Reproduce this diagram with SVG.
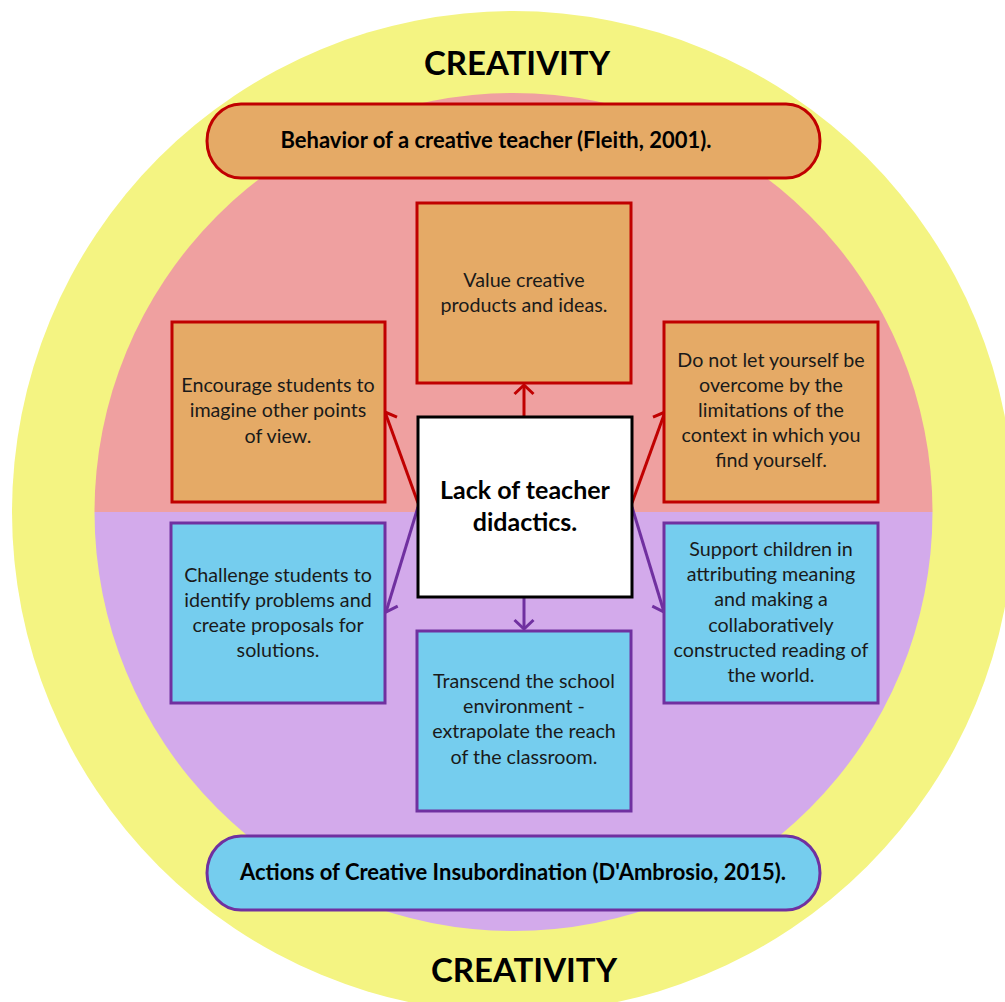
<svg xmlns="http://www.w3.org/2000/svg" width="1005" height="1002" viewBox="0 0 1005 1002">
  <style>
    .title { font-family: Lato, "Open Sans", sans-serif; font-weight: bold; font-size: 33px; fill: #000; text-anchor: middle; }
    .pilltxt { font-family: Lato, "Open Sans", sans-serif; font-weight: bold; font-size: 22px; fill: #000; text-anchor: middle; }
    .body { font-family: Lato, "Open Sans", sans-serif; font-size: 19.7px; fill: #1a1a1a; text-anchor: middle; }
    .core { font-family: Lato, "Open Sans", sans-serif; font-weight: bold; font-size: 25px; fill: #000; text-anchor: middle; }
    .warm { fill: #E5AA66; stroke: #C00000; stroke-width: 3; }
    .cool { fill: #75CDEE; stroke: #7030A0; stroke-width: 3; }
    .red { stroke: #C00000; stroke-width: 3; fill: none; }
    .violet { stroke: #7030A0; stroke-width: 3; fill: none; }
  </style>
  <defs>
    <marker id="headRed" markerUnits="userSpaceOnUse" markerWidth="24" markerHeight="24" viewBox="-12 -12 24 24" refX="0" refY="0" orient="auto">
      <path d="M -9 -9.5 L 0 0 L -9 9.5" fill="none" stroke="#C00000" stroke-width="3"/>
    </marker>
    <marker id="headViolet" markerUnits="userSpaceOnUse" markerWidth="24" markerHeight="24" viewBox="-12 -12 24 24" refX="0" refY="0" orient="auto">
      <path d="M -9 -9.5 L 0 0 L -9 9.5" fill="none" stroke="#7030A0" stroke-width="3"/>
    </marker>
  </defs>

  <rect width="1005" height="1002" fill="#ffffff"/>

  <!-- background rings -->
  <g id="rings">
    <circle cx="513" cy="512" r="501" fill="#F4F482"/>
    <path d="M 94.5 512 A 419 419 0 0 1 932.5 512 Z" fill="#EFA0A0"/>
    <path d="M 94.5 512 A 419 419 0 0 0 932.5 512 Z" fill="#D3AAEB"/>
  </g>

  <g id="title-top">
    <text class="title" x="517" y="75">CREATIVITY</text>
  </g>
  <g id="title-bottom">
    <text class="title" x="524" y="982">CREATIVITY</text>
  </g>

  <g id="pill-top">
    <rect x="207" y="104" width="613" height="74" rx="34" ry="37" class="warm"/>
    <text class="pilltxt" x="496" y="148">Behavior of a creative teacher (Fleith, 2001).</text>
  </g>

  <g id="pill-bottom">
    <rect x="207" y="836" width="613" height="74" rx="34" ry="37" class="cool"/>
    <text class="pilltxt" x="513" y="880">Actions of Creative Insubordination (D'Ambrosio, 2015).</text>
  </g>

  <!-- connectors from the centre box -->
  <g id="connectors">
    <line x1="524" y1="416" x2="524" y2="385" class="red" marker-end="url(#headRed)"/>
    <line x1="418" y1="503" x2="385" y2="412" class="red" marker-end="url(#headRed)"/>
    <line x1="632" y1="503" x2="665" y2="412" class="red" marker-end="url(#headRed)"/>
    <line x1="418" y1="507" x2="386" y2="612" class="violet" marker-end="url(#headViolet)"/>
    <line x1="632" y1="507" x2="664" y2="612" class="violet" marker-end="url(#headViolet)"/>
    <line x1="524" y1="598" x2="524" y2="629" class="violet" marker-end="url(#headViolet)"/>
  </g>

  <g id="center">
    <rect x="418" y="417" width="214" height="180" fill="#ffffff" stroke="#000" stroke-width="3"/>
    <text class="core" x="525" y="499">Lack of teacher</text>
    <text class="core" x="525" y="531">didactics.</text>
  </g>

  <g id="value-products">
    <rect x="417" y="203" width="214" height="180" class="warm"/>
    <text class="body" x="524" y="287">Value creative</text>
    <text class="body" x="524" y="312">products and ideas.</text>
  </g>

  <g id="encourage-views">
    <rect x="172" y="322" width="213" height="180" class="warm"/>
    <text class="body" x="278" y="392">Encourage students to</text>
    <text class="body" x="278" y="417">imagine other points</text>
    <text class="body" x="278" y="443">of view.</text>
  </g>

  <g id="not-overcome">
    <rect x="664" y="322" width="214" height="180" class="warm"/>
    <text class="body" x="771" y="367">Do not let yourself be</text>
    <text class="body" x="771" y="392">overcome by the</text>
    <text class="body" x="771" y="417">limitations of the</text>
    <text class="body" x="771" y="442">context in which you</text>
    <text class="body" x="771" y="467">find yourself.</text>
  </g>

  <g id="challenge-students">
    <rect x="171" y="523" width="214" height="180" class="cool"/>
    <text class="body" x="278" y="582">Challenge students to</text>
    <text class="body" x="278" y="607">identify problems and</text>
    <text class="body" x="278" y="632">create proposals for</text>
    <text class="body" x="278" y="657">solutions.</text>
  </g>

  <g id="support-children">
    <rect x="664" y="523" width="214" height="180" class="cool"/>
    <text class="body" x="771" y="556">Support children in</text>
    <text class="body" x="771" y="581">attributing meaning</text>
    <text class="body" x="771" y="606">and making a</text>
    <text class="body" x="771" y="632">collaboratively</text>
    <text class="body" x="771" y="657">constructed reading of</text>
    <text class="body" x="771" y="682">the world.</text>
  </g>

  <g id="transcend-school">
    <rect x="417" y="631" width="214" height="180" class="cool"/>
    <text class="body" x="524" y="688">Transcend the school</text>
    <text class="body" x="524" y="713">environment -</text>
    <text class="body" x="524" y="738">extrapolate the reach</text>
    <text class="body" x="524" y="764">of the classroom.</text>
  </g>
</svg>
